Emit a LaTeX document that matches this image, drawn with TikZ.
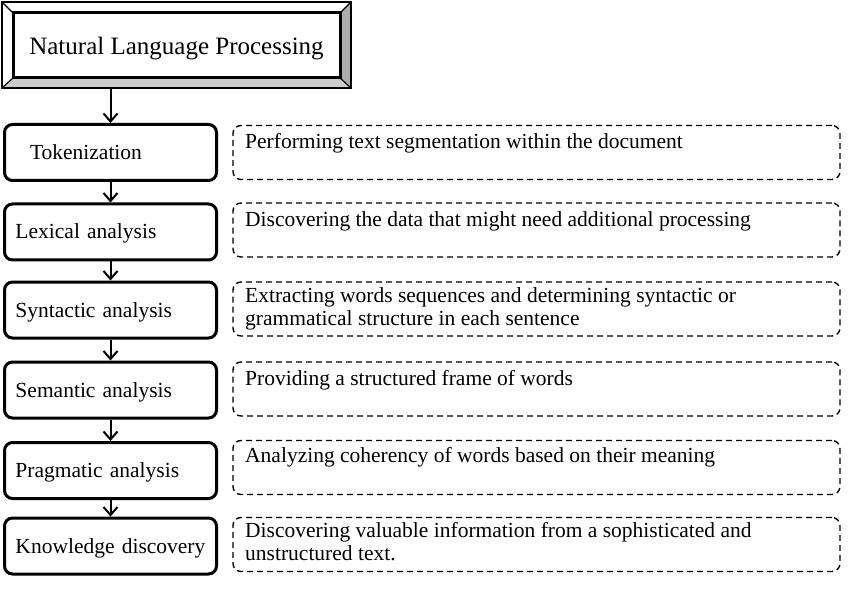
\documentclass[tikz,border=0pt]{standalone}
\usepackage{fontspec}
\setmainfont{Liberation Serif}
\usetikzlibrary{arrows.meta,calc}
\begin{document}
\begin{tikzpicture}[x=1pt,y=-1pt,
  stepbox/.style={draw, line width=3pt, rounded corners=8pt, minimum width=212pt, minimum height=56pt,
    text width=190pt, align=left, inner xsep=11pt, inner ysep=0pt, text height=16pt, text depth=2pt,
    font=\fontsize{21.5pt}{23pt}\selectfont},
  descbox/.style={draw, line width=1.4pt, dash pattern=on 6pt off 4pt, rounded corners=8pt,
    minimum width=607pt, minimum height=54pt, inner sep=0pt},
  desc/.style={anchor=north west, inner sep=0pt, align=left, font=\fontsize{21.5pt}{23pt}\selectfont},
  arr/.style={line width=2pt, -{Straight Barb[length=8pt,width=14pt]}},
  bevel/.style={line width=1.2pt},
]
\useasboundingbox (0,0) rectangle (850,609);

% bevelled frame of the title
\fill[white] (2,2) -- (351,2) -- (340,13) -- (13,13) -- cycle;
\fill[white] (2,2) -- (13,13) -- (13,78) -- (2,88) -- cycle;
\fill[black!32] (351,2) -- (351,88) -- (340,78) -- (340,13) -- cycle;
\fill[black!20] (2,88) -- (351,88) -- (340,78) -- (13,78) -- cycle;
\node[draw, line width=2pt, minimum width=349pt, minimum height=86pt, inner sep=0pt] (frame) at (176.5,45) {};
\draw[bevel] (2,2) -- (13,13);
\draw[bevel] (351,2) -- (340,13);
\draw[bevel] (2,88) -- (13,78);
\draw[bevel] (351,88) -- (340,78);
\node[draw, line width=3pt, minimum width=327pt, minimum height=65pt, inner sep=0pt,
  text height=19pt, text depth=0pt, font=\fontsize{25pt}{28pt}\selectfont] (nlp) at (176.5,45.5) {Natural Language Processing};

% steps
\node[stepbox] (tok)  at (110.5,152.5) {\hspace*{14.5pt}Tokenization};
\node[stepbox] (lex)  at (110.5,232)   {Lexical analysis};
\node[stepbox] (syn)  at (110.5,310)   {Syntactic analysis};
\node[stepbox] (sem)  at (110.5,390)   {Semantic analysis};
\node[stepbox] (prag) at (110.5,470.5) {Pragmatic analysis};
\node[stepbox] (know) at (110.5,546)   {Knowledge discovery};

% descriptions
\node[descbox] (dtok)  at (536.5,152.5) {};
\node[descbox] (dlex)  at (536.5,230)   {};
\node[descbox] (dsyn)  at (536.5,309)   {};
\node[descbox] (dsem)  at (536.5,389)   {};
\node[descbox] (dprag) at (536.5,467.5) {};
\node[descbox] (dknow) at (536.5,544.5) {};

\node[desc] (ttok)  at (245,131.9) {\strut Performing text segmentation within the document};
\node[desc] (tlex)  at (245,209.9) {\strut Discovering the data that might need additional processing};
\node[desc] (tsyn)  at (245,285.9) {\strut Extracting words sequences and determining syntactic or\\\strut grammatical structure in each sentence};
\node[desc] (tsem)  at (245,368.9) {\strut Providing a structured frame of words};
\node[desc] (tprag) at (245,445.9) {\strut Analyzing coherency of words based on their meaning};
\node[desc] (tknow) at (245,520.9) {\strut Discovering valuable information from a sophisticated and\\\strut unstructured text.};

% connectors
\draw[arr] (tok.north |- frame.south) -- (tok.north);
\draw[arr] (tok) -- (lex);
\draw[arr] (lex) -- (syn);
\draw[arr] (syn) -- (sem);
\draw[arr] (sem) -- (prag);
\draw[arr] (prag) -- (know);
\end{tikzpicture}
\end{document}
